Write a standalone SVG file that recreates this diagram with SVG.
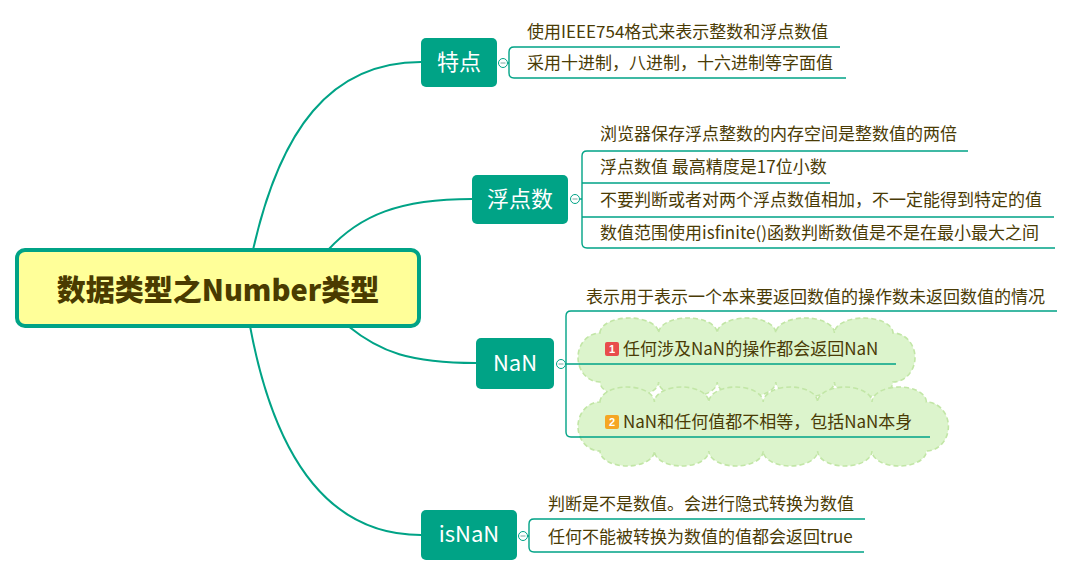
<svg xmlns="http://www.w3.org/2000/svg" width="1073" height="577" viewBox="0 0 1073 577">
<style>
.t{font-family:"Noto Sans CJK SC","Noto Sans",sans-serif;font-size:17px;fill:#4a3b05}
.nt{font-family:"Noto Sans CJK SC","Noto Sans",sans-serif;font-size:22px;fill:#ffffff;text-anchor:middle}
.node{fill:#00a386}
.conn{fill:none;stroke:#00a386;stroke-width:2}
.br{fill:none;stroke:#00a386;stroke-width:1.4}
.col{fill:#ffffff;stroke:#00a386;stroke-width:1}
.minus{stroke:#7aa8a0;stroke-width:1}
.cloud{fill:#dcf4cc;stroke:#c2e6a6;stroke-width:1.6;stroke-dasharray:5 3}
.bt{font-family:"Liberation Sans",sans-serif;font-size:11px;font-weight:bold;fill:#fff;text-anchor:middle}
</style>
<rect width="1073" height="577" fill="#ffffff"/>
<g id="connectors">
<path class="conn" d="M253,250 C280,130 330,62 421,62"/>
<path class="conn" d="M328,250 C360,215 400,199 472,199"/>
<path class="conn" d="M348,326 C380,352 410,363 476,363"/>
<path class="conn" d="M250,326 C275,460 330,535 421,535"/>
</g>
<g id="root">
<rect x="17" y="250" width="402" height="76" rx="8" fill="#ffff99" stroke="#00a386" stroke-width="4"/>
<text x="218" y="301" text-anchor="middle" style="font-family:'Noto Sans CJK SC','Noto Sans',sans-serif;font-size:29px;font-weight:900;fill:#4a3b00">数据类型之Number类型</text>
</g>
<g id="node-tedian">
<rect class="node" x="421" y="38" width="76" height="49" rx="5"/>
<text class="nt" x="459" y="70">特点</text>
<path class="br" d="M508,63 H509 M840,47 H514 Q509,47 509,52 V73 Q509,78 514,78 H846"/>
<circle class="col" cx="503" cy="63" r="4.5"/>
<line class="minus" x1="500.5" y1="63" x2="505.5" y2="63"/>
<text class="t" x="527" y="38">使用IEEE754格式来表示整数和浮点数值</text>
<text class="t" x="527" y="69">采用十进制，八进制，十六进制等字面值</text>
</g>
<g id="node-float">
<rect class="node" x="472" y="175" width="96" height="49" rx="5"/>
<text class="nt" x="520" y="207">浮点数</text>
<path class="br" d="M580,199 H582 M968,151 H587 Q582,151 582,156 V243 Q582,248 587,248 H1055 M582,183 H830 M582,217 H1054"/>
<circle class="col" cx="575" cy="199" r="4.5"/>
<line class="minus" x1="572.5" y1="199" x2="577.5" y2="199"/>
<text class="t" x="600" y="140">浏览器保存浮点整数的内存空间是整数值的两倍</text>
<text class="t" x="600" y="173">浮点数值 最高精度是17位小数</text>
<text class="t" x="600" y="206">不要判断或者对两个浮点数值相加，不一定能得到特定的值</text>
<text class="t" x="600" y="239">数值范围使用isfinite()函数判断数值是不是在最小最大之间</text>
</g>
<g id="node-nan">
<rect class="node" x="476" y="338" width="78" height="51" rx="5"/>
<text class="nt" x="515" y="371">NaN</text>
<path class="cloud" d="M600,333 a29.3,15 0 0 1 58.6,0 a29.3,15 0 0 1 58.6,0 a29.3,15 0 0 1 58.6,0 a29.3,15 0 0 1 58.6,0 a29.3,15 0 0 1 58.6,0 a22,24.5 0 0 1 0,49 a29.3,15 0 0 1 -58.6,0 a29.3,15 0 0 1 -58.6,0 a29.3,15 0 0 1 -58.6,0 a29.3,15 0 0 1 -58.6,0 a29.3,15 0 0 1 -58.6,0 a22,24.5 0 0 1 0,-49 z"/>
<path class="cloud" d="M600,402 a27.2,15 0 0 1 54.4,0 a27.2,15 0 0 1 54.4,0 a27.2,15 0 0 1 54.4,0 a27.2,15 0 0 1 54.4,0 a27.2,15 0 0 1 54.4,0 a27.2,15 0 0 1 54.4,0 a22,24.5 0 0 1 0,49 a27.2,15 0 0 1 -54.4,0 a27.2,15 0 0 1 -54.4,0 a27.2,15 0 0 1 -54.4,0 a27.2,15 0 0 1 -54.4,0 a27.2,15 0 0 1 -54.4,0 a27.2,15 0 0 1 -54.4,0 a22,24.5 0 0 1 0,-49 z"/>
<path class="br" d="M1057,311 H571 Q566,311 566,316 V432 Q566,437 571,437 H930 M564,364 H896"/>
<circle class="col" cx="561" cy="364" r="4.5"/>
<line class="minus" x1="558.5" y1="364" x2="563.5" y2="364"/>
<text class="t" x="586" y="303">表示用于表示一个本来要返回数值的操作数未返回数值的情况</text>
<rect x="605" y="342" width="14" height="14" rx="2" fill="#e84c4c"/>
<text class="bt" x="612" y="353">1</text>
<text class="t" x="623" y="355">任何涉及NaN的操作都会返回NaN</text>
<rect x="605" y="415" width="14" height="14" rx="2" fill="#f5a623"/>
<text class="bt" x="612" y="426">2</text>
<text class="t" x="623" y="428">NaN和任何值都不相等，包括NaN本身</text>
</g>
<g id="node-isnan">
<rect class="node" x="421" y="510" width="96" height="50" rx="5"/>
<text class="nt" x="469" y="542">isNaN</text>
<path class="br" d="M527,536 H529 M865,519 H534 Q529,519 529,524 V547 Q529,552 534,552 H864"/>
<circle class="col" cx="523" cy="536" r="4.5"/>
<line class="minus" x1="520.5" y1="536" x2="525.5" y2="536"/>
<text class="t" x="548" y="510">判断是不是数值。会进行隐式转换为数值</text>
<text class="t" x="548" y="543">任何不能被转换为数值的值都会返回true</text>
</g>
</svg>
